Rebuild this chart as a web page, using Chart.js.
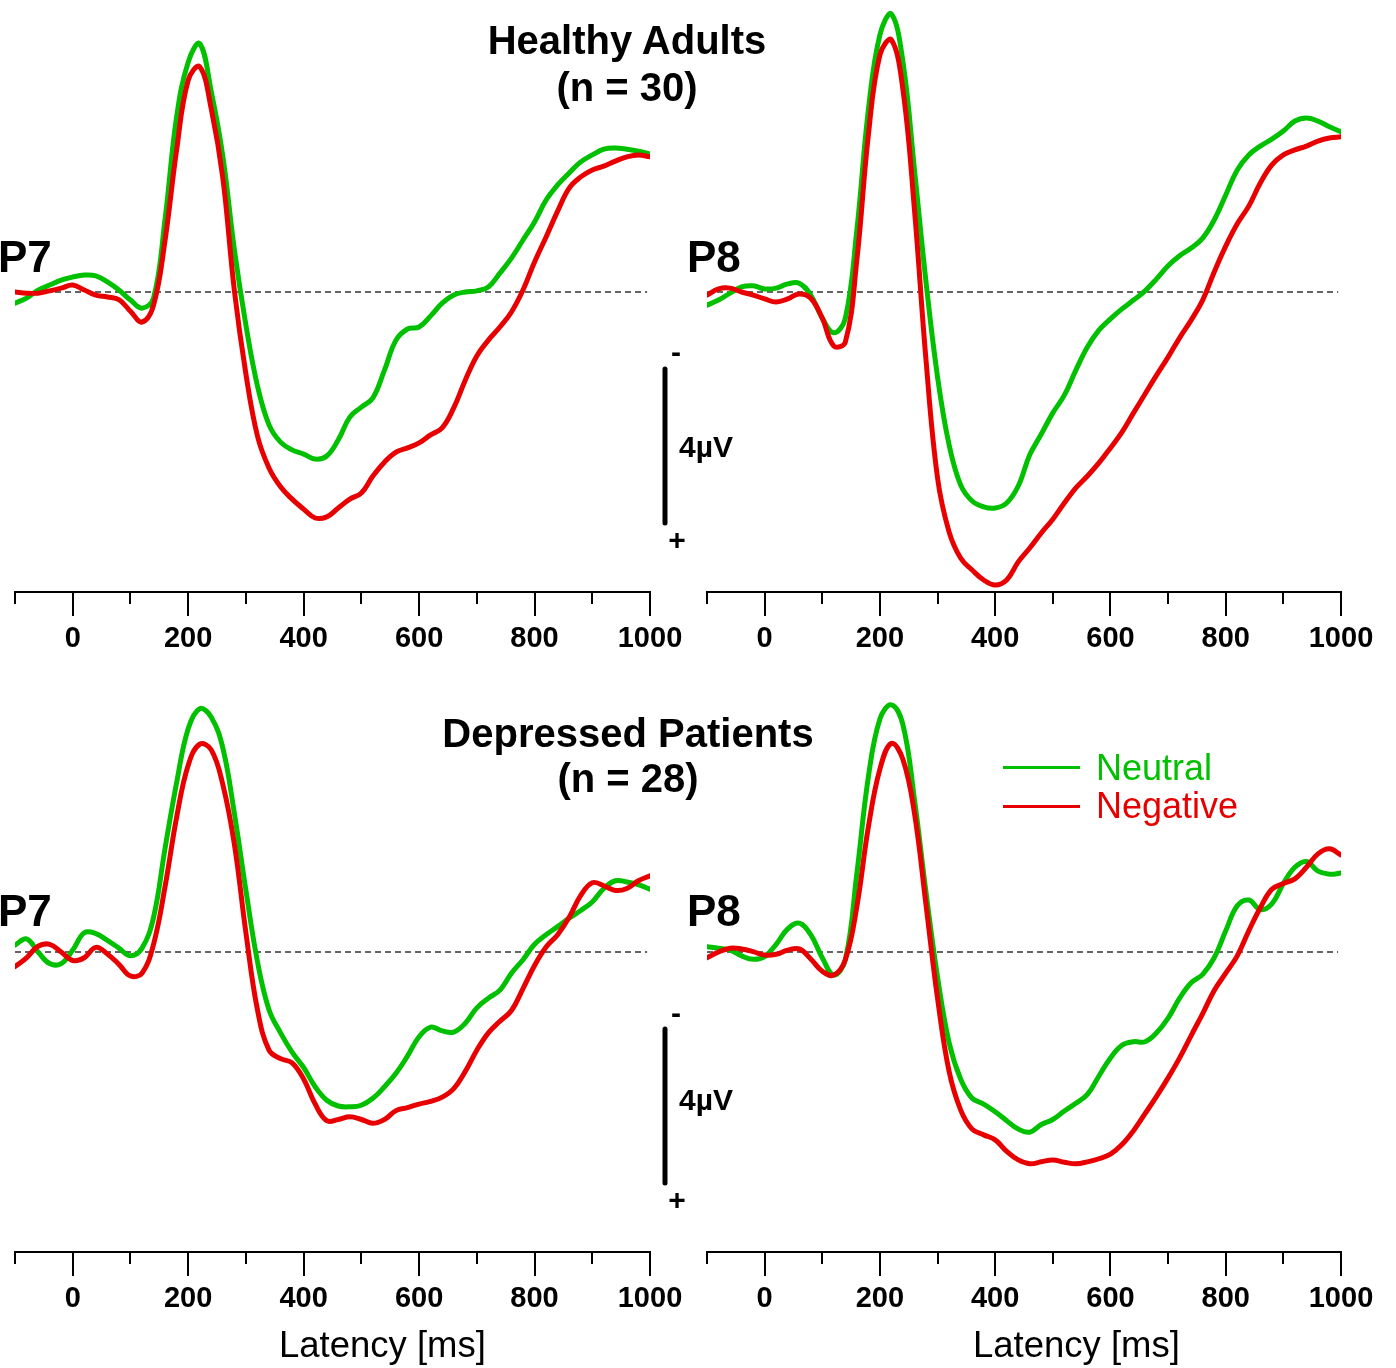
<!DOCTYPE html>
<html>
<head>
<meta charset="utf-8">
<script src="https://cdn.jsdelivr.net/npm/chart.js@4.4.1/dist/chart.umd.min.js"></script>
<style>
  body { margin: 0; background: #fff; width: 1396px; height: 1368px; position: relative; overflow: hidden;
         font-family: "Liberation Sans", Arial, sans-serif; }
  canvas { position: absolute; }
  .txt { position: absolute; white-space: nowrap; line-height: 1; color: #000; }
  .b { font-weight: bold; }
  .c { text-align: center; }
  .leg { position: absolute; height: 3px; width: 77px; left: 1003px; }
</style>
</head>
<body>
<canvas id="p7Healthy" width="760" height="670" style="left:0;top:0"></canvas>
<canvas id="p8Healthy" width="704" height="670" style="left:692px;top:0"></canvas>
<canvas id="p7Depressed" width="760" height="650" style="left:0;top:680px"></canvas>
<canvas id="p8Depressed" width="704" height="650" style="left:692px;top:680px"></canvas>

<div class="txt b c" style="font-size:40px;left:327px;width:600px;top:20px">Healthy Adults</div>
<div class="txt b c" style="font-size:40px;left:327px;width:600px;top:67px">(n = 30)</div>
<div class="txt b c" style="font-size:40px;left:328px;width:600px;top:713px">Depressed Patients</div>
<div class="txt b c" style="font-size:40px;left:328px;width:600px;top:758px">(n = 28)</div>

<div class="txt b" style="font-size:44px;left:-2px;top:235px">P7</div>
<div class="txt b" style="font-size:44px;left:687px;top:235px">P8</div>
<div class="txt b" style="font-size:44px;left:-2px;top:889px">P7</div>
<div class="txt b" style="font-size:44px;left:687px;top:889px">P8</div>

<div class="txt b c" style="font-size:30px;left:656px;width:40px;top:337px">-</div>
<div class="txt b" style="font-size:30px;left:679px;top:432px">4µV</div>
<div class="txt b c" style="font-size:30px;left:657px;width:40px;top:525px">+</div>
<div class="txt b c" style="font-size:30px;left:656px;width:40px;top:998px">-</div>
<div class="txt b" style="font-size:30px;left:679px;top:1085px">4µV</div>
<div class="txt b c" style="font-size:30px;left:657px;width:40px;top:1185px">+</div>

<div class="leg" style="top:766px;background:#00c000"></div>
<div class="leg" style="top:805px;background:#e80000"></div>
<div class="txt" style="font-size:36px;left:1096px;top:750px;color:#00c000">Neutral</div>
<div class="txt" style="font-size:36px;left:1096px;top:788px;color:#e80000">Negative</div>

<div class="txt" style="font-size:36.5px;left:279px;top:1327px">Latency [ms]</div>
<div class="txt" style="font-size:36.5px;left:973px;top:1327px">Latency [ms]</div>

<script>
// ---------------------------------------------------------------
// data (µV, negative plotted upwards)
// ---------------------------------------------------------------
const latency = [-100, -80, -60, -40, -20, 0, 20, 40, 60, 80, 100, 120, 140, 160, 180, 200,
  220, 240, 260, 280, 300, 320, 340, 360, 380, 400, 420, 440, 460, 480, 500, 520, 540, 560,
  580, 600, 620, 640, 660, 680, 700, 720, 740, 760, 780, 800, 820, 840, 860, 880, 900, 920,
  940, 960, 980, 1000];

const p7HealthyNeutral = [0.29, 0.16, -0.05, -0.18, -0.31, -0.39, -0.44, -0.42, -0.26, -0.05, 0.21,
  0.42, 0.16, -1.9, -4.55, -5.97, -6.45, -5.2, -3.53, -1.1, 0.86, 2.44, 3.45, 3.9, 4.1, 4.21,
  4.34, 4.26, 3.84, 3.25, 2.99, 2.75, 2.03, 1.25, 0.96, 0.91, 0.62, 0.29, 0.08, 0.0, -0.03,
  -0.13, -0.49, -0.88, -1.35, -1.82, -2.39, -2.78, -3.09, -3.38, -3.56, -3.71, -3.74, -3.71, -3.66, -3.58];
const p7HealthyNegative = [0.0, 0.03, 0.03, -0.03, -0.1, -0.18, -0.05, 0.08, 0.13, 0.2, 0.5,
  0.78, 0.34, -1.35, -3.69, -5.5, -5.85, -4.75, -2.96, -0.04, 2.13, 3.74, 4.57, 5.06, 5.38, 5.64,
  5.87, 5.84, 5.61, 5.38, 5.22, 4.78, 4.42, 4.16, 4.05, 3.92, 3.71, 3.53, 3.01, 2.29, 1.66,
  1.25, 0.91, 0.52, -0.05, -0.78, -1.43, -2.1, -2.7, -2.99, -3.17, -3.27, -3.4, -3.51, -3.56, -3.51];

const p8HealthyNeutral = [0.34, 0.21, 0.03, -0.13, -0.16, -0.08, -0.1, -0.21, -0.23, 0.08, 0.68,
  1.06, 0.68, -1.61, -4.73, -6.68, -7.22, -5.97, -3.17, -0.26, 2.21, 3.97, 5.01, 5.43, 5.58, 5.61,
  5.48, 5.04, 4.23, 3.69, 3.14, 2.68, 2.03, 1.43, 0.99, 0.7, 0.44, 0.21, -0.03, -0.34, -0.68,
  -0.94, -1.14, -1.4, -1.87, -2.52, -3.17, -3.56, -3.79, -3.97, -4.18, -4.44, -4.52, -4.44, -4.29, -4.16];
const p8HealthyNegative = [0.08, -0.08, -0.1, 0.0, 0.08, 0.18, 0.26, 0.18, 0.05, 0.16, 0.68,
  1.4, 1.3, -0.83, -4.08, -6.16, -6.55, -5.25, -2.13, 1.77, 4.83, 6.23, 6.91, 7.22, 7.48, 7.61,
  7.48, 7.01, 6.65, 6.26, 5.9, 5.48, 5.09, 4.78, 4.44, 4.05, 3.64, 3.14, 2.65, 2.16, 1.69,
  1.19, 0.73, 0.21, -0.52, -1.19, -1.77, -2.23, -2.83, -3.3, -3.56, -3.69, -3.79, -3.92, -4.0, -4.03];

const p7DepressedNeutral = [-0.18, -0.34, 0.0, 0.3, 0.3, -0.05, -0.5, -0.48, -0.3, -0.1, 0.1,
  -0.1, -0.9, -2.7, -4.4, -5.8, -6.32, -6.1, -5.3, -3.6, -1.6, 0.25, 1.5, 2.1, 2.6, 3.0,
  3.5, 3.85, 4.0, 4.02, 3.98, 3.8, 3.5, 3.15, 2.7, 2.2, 1.95, 2.05, 2.08, 1.85, 1.45,
  1.2, 0.99, 0.55, 0.2, -0.2, -0.45, -0.66, -0.88, -1.08, -1.3, -1.65, -1.85, -1.82, -1.75, -1.63];
const p7DepressedNegative = [0.38, 0.15, -0.15, -0.2, 0.0, 0.22, 0.15, -0.12, 0.05, 0.32, 0.62,
  0.55, -0.2, -1.7, -3.5, -4.85, -5.4, -5.25, -4.35, -2.8, -0.5, 1.5, 2.55, 2.77, 2.88, 3.3,
  3.95, 4.38, 4.35, 4.28, 4.35, 4.45, 4.35, 4.12, 4.04, 3.95, 3.88, 3.77, 3.55, 3.1, 2.55,
  2.1, 1.8, 1.52, 0.95, 0.35, -0.13, -0.45, -0.9, -1.47, -1.8, -1.72, -1.6, -1.65, -1.85, -1.98];

const p8DepressedNeutral = [-0.14, -0.1, -0.05, 0.1, 0.19, 0.12, -0.2, -0.6, -0.75, -0.45, 0.15,
  0.6, 0.2, -2.04, -4.55, -6.05, -6.42, -5.9, -3.95, -1.55, 0.65, 2.35, 3.3, 3.8, 3.95, 4.15,
  4.38, 4.6, 4.68, 4.48, 4.35, 4.13, 3.93, 3.7, 3.22, 2.75, 2.42, 2.33, 2.33, 2.1, 1.72,
  1.2, 0.8, 0.58, 0.15, -0.55, -1.2, -1.35, -1.1, -1.25, -1.78, -2.2, -2.35, -2.1, -2.02, -2.05];
const p8DepressedNegative = [0.15, 0.0, -0.1, -0.08, -0.01, 0.08, 0.06, -0.05, -0.08, 0.18, 0.5,
  0.6, 0.2, -1.18, -3.25, -4.75, -5.42, -5.0, -3.6, -1.22, 1.2, 3.1, 4.1, 4.6, 4.75, 4.88,
  5.18, 5.4, 5.5, 5.45, 5.4, 5.46, 5.5, 5.45, 5.37, 5.25, 5.0, 4.64, 4.2, 3.75, 3.27,
  2.75, 2.17, 1.6, 1.0, 0.55, 0.1, -0.55, -1.15, -1.63, -1.78, -1.9, -2.2, -2.55, -2.68, -2.52];

const tickValues = [-100, 0, 100, 200, 300, 400, 500, 600, 700, 800, 900, 1000];
const scaleBarMicrovolts = [2, 6];   // 4 µV calibration bar

const NEUTRAL_COLOR = '#00c000';
const NEGATIVE_COLOR = '#e80000';
const FONT = '"Liberation Sans", Arial, sans-serif';

// ---------------------------------------------------------------
// plugin: zero line, tick marks, calibration bar
// ---------------------------------------------------------------
const erpDecor = {
  id: 'erpDecor',
  beforeDatasetsDraw(chart) {
    const { ctx, scales: { x, y } } = chart;
    ctx.save();
    ctx.strokeStyle = '#333';
    ctx.lineWidth = 1.5;
    ctx.setLineDash([6, 4]);
    ctx.beginPath();
    ctx.moveTo(x.getPixelForValue(-100), y.getPixelForValue(0));
    ctx.lineTo(x.getPixelForValue(995), y.getPixelForValue(0));
    ctx.stroke();
    ctx.restore();
  },
  afterDraw(chart, args, opts) {
    const { ctx, chartArea, scales: { x, y } } = chart;
    ctx.save();
    ctx.strokeStyle = '#000';
    ctx.lineWidth = 2;
    tickValues.forEach(v => {
      const px = Math.round(x.getPixelForValue(v));
      ctx.beginPath();
      ctx.moveTo(px, chartArea.bottom);
      ctx.lineTo(px, chartArea.bottom + (v % 200 === 0 ? 24 : 12));
      ctx.stroke();
    });
    if (opts.scaleBarX) {
      ctx.lineWidth = 5;
      ctx.lineCap = 'round';
      ctx.beginPath();
      ctx.moveTo(opts.scaleBarX, y.getPixelForValue(scaleBarMicrovolts[0]));
      ctx.lineTo(opts.scaleBarX, y.getPixelForValue(scaleBarMicrovolts[1]));
      ctx.stroke();
    }
    ctx.restore();
  }
};

function toPoints(values) {
  return latency.map((t, i) => ({ x: t, y: values[i] }));
}

function makeErpChart(id, neutral, negative, yMin, padRight, scaleBarX) {
  return new Chart(document.getElementById(id), {
    type: 'line',
    data: {
      datasets: [
        { label: 'Negative', data: toPoints(negative), borderColor: NEGATIVE_COLOR },
        { label: 'Neutral', data: toPoints(neutral), borderColor: NEUTRAL_COLOR }
      ]
    },
    options: {
      responsive: false,
      animation: false,
      devicePixelRatio: 1,
      layout: { padding: { left: 15, right: padRight, top: 0, bottom: 0 } },
      elements: {
        point: { radius: 0 },
        line: { borderWidth: 5, tension: 0.4, borderCapStyle: 'round', borderJoinStyle: 'round', fill: false }
      },
      scales: {
        x: {
          type: 'linear',
          min: -100,
          max: 1000,
          afterFit: (scale) => { scale.height = 78; },
          border: { display: true, color: '#000', width: 2 },
          grid: { drawOnChartArea: false, color: 'rgba(0,0,0,0)', tickLength: 24 },
          ticks: {
            stepSize: 100,
            autoSkip: false,
            maxRotation: 0,
            padding: 6,
            color: '#000',
            font: { family: FONT, size: 29, weight: 'bold' },
            callback: (v) => (v % 200 === 0 ? String(v) : '')
          }
        },
        y: {
          display: false,
          reverse: true,
          min: yMin,
          max: 7.792
        }
      },
      plugins: {
        legend: { display: false },
        tooltip: { enabled: false },
        erpDecor: { scaleBarX: scaleBarX }
      }
    },
    plugins: [erpDecor]
  });
}

makeErpChart('p7Healthy', p7HealthyNeutral, p7HealthyNegative, -7.584, 110, 665);
makeErpChart('p8Healthy', p8HealthyNeutral, p8HealthyNegative, -7.584, 55, null);
makeErpChart('p7Depressed', p7DepressedNeutral, p7DepressedNegative, -7.065, 110, 665);
makeErpChart('p8Depressed', p8DepressedNeutral, p8DepressedNegative, -7.065, 55, null);
</script>
</body>
</html>
